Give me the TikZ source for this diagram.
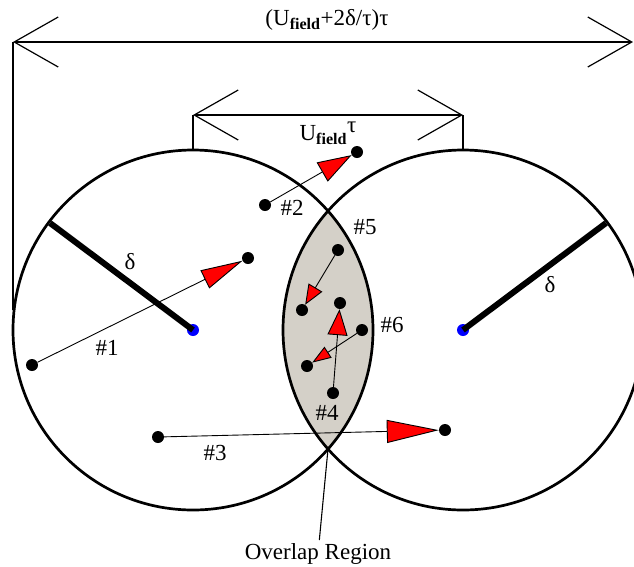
\documentclass[tikz,border=0pt]{standalone}
\usepackage{fontspec}
\setmainfont{Liberation Serif}
\usetikzlibrary{arrows.meta}
\definecolor{lensgray}{RGB}{212,208,200}
\definecolor{ptred}{RGB}{255,0,0}
\definecolor{ctrblue}{RGB}{0,0,255}

\begin{document}
\begin{tikzpicture}[
  x=1pt,y=-1pt,
  font=\fontsize{23}{27}\selectfont,
  rim/.style={line width=2.7pt},
  rad/.style={line width=6pt},
  dim/.style={line width=1.2pt,{Straight Barb[length=44pt,width=50pt]}-{Straight Barb[length=44pt,width=50pt]}},
  ext/.style={line width=1.1pt},
  dot/.style={circle,fill=black,inner sep=0pt,minimum size=12pt},
  ctr/.style={circle,fill=ctrblue,inner sep=0pt,minimum size=12pt},
  arr/.style n args={2}{line width=0.9pt,-{Triangle[length=#1,width=#2,fill=ptred]}},
]
  \useasboundingbox (0,0) rectangle (634,566);
  % circle centres and crossing points
  \coordinate (cl) at (193,330);
  \coordinate (cr) at (463,330);
  \coordinate (lo) at (328,449);
  % overlap lens
  \begin{scope}
    \clip (cl) circle[radius=180pt];
    \fill[lensgray] (cr) circle[radius=180pt];
  \end{scope}
  \draw[rim] (cl) circle[radius=180pt];
  \draw[rim] (cr) circle[radius=180pt];
  % dimension lines
  \coordinate (ol) at (13,42);  \coordinate (or) at (633,42);
  \coordinate (il) at (193,115); \coordinate (ir) at (463,115);
  \coordinate (olf) at (13,310);
  \coordinate (ilf) at (193,150); \coordinate (irf) at (463,150);
  \draw[dim] (ol) -- (or);
  \draw[dim] (il) -- (ir);
  \draw[ext] (ol) -- (olf);
  \draw[ext] (il) -- (ilf);
  \draw[ext] (ir) -- (irf);
  \node (outer) at (327,20) {(U\textsubscript{\textbf{field}}+2δ/τ)τ};
  \node (inner) at (328,133) {U\textsubscript{\textbf{field}}\raisebox{.35em}{τ}};
  % radii
  \node[ctr] (bl) at (cl) {};
  \node[ctr] (br) at (cr) {};
  \coordinate (rl) at (50,223); \coordinate (rr) at (606,223);
  \draw[rad] (bl.center) -- (rl);
  \draw[rad] (br.center) -- (rr);
  \node (dl) at (130,262) {δ};
  \node (dr) at (550,285) {δ};
  % particles
  \node[dot] (st1) at (32,365) {};  \node[dot] (en1) at (248,258) {};
  \node[dot] (st2) at (265,205) {}; \node[dot] (en2) at (357,152) {};
  \node[dot] (st3) at (158,437) {}; \node[dot] (en3) at (445,430) {};
  \node[dot] (st4) at (333,393) {}; \node[dot] (en4) at (340,303) {};
  \node[dot] (st5) at (338,250) {}; \node[dot] (en5) at (302,310) {};
  \node[dot] (st6) at (362,330) {}; \node[dot] (en6) at (307,366) {};
  \draw[arr={42pt}{20pt}] (st1) -- (en1);
  \draw[arr={34pt}{22pt}] (st2) -- (en2);
  \draw[arr={52pt}{23pt}] (st3) -- (en3);
  \draw[arr={26pt}{20pt}] (st4) -- (en4);
  \draw[arr={20pt}{16pt}] (st5) -- (en5);
  \draw[arr={19pt}{13pt}] (st6) -- (en6);
  \node (n1) at (107,348) {\#1};
  \node (n2) at (292,208) {\#2};
  \node (n3) at (215,453) {\#3};
  \node (n4) at (327,413) {\#4};
  \node (n5) at (365,227) {\#5};
  \node (n6) at (392,325) {\#6};
  % overlap label
  \node (ovl) at (318,554) {Overlap Region};
  \draw[ext] (lo) -- (ovl);
\end{tikzpicture}
\end{document}
